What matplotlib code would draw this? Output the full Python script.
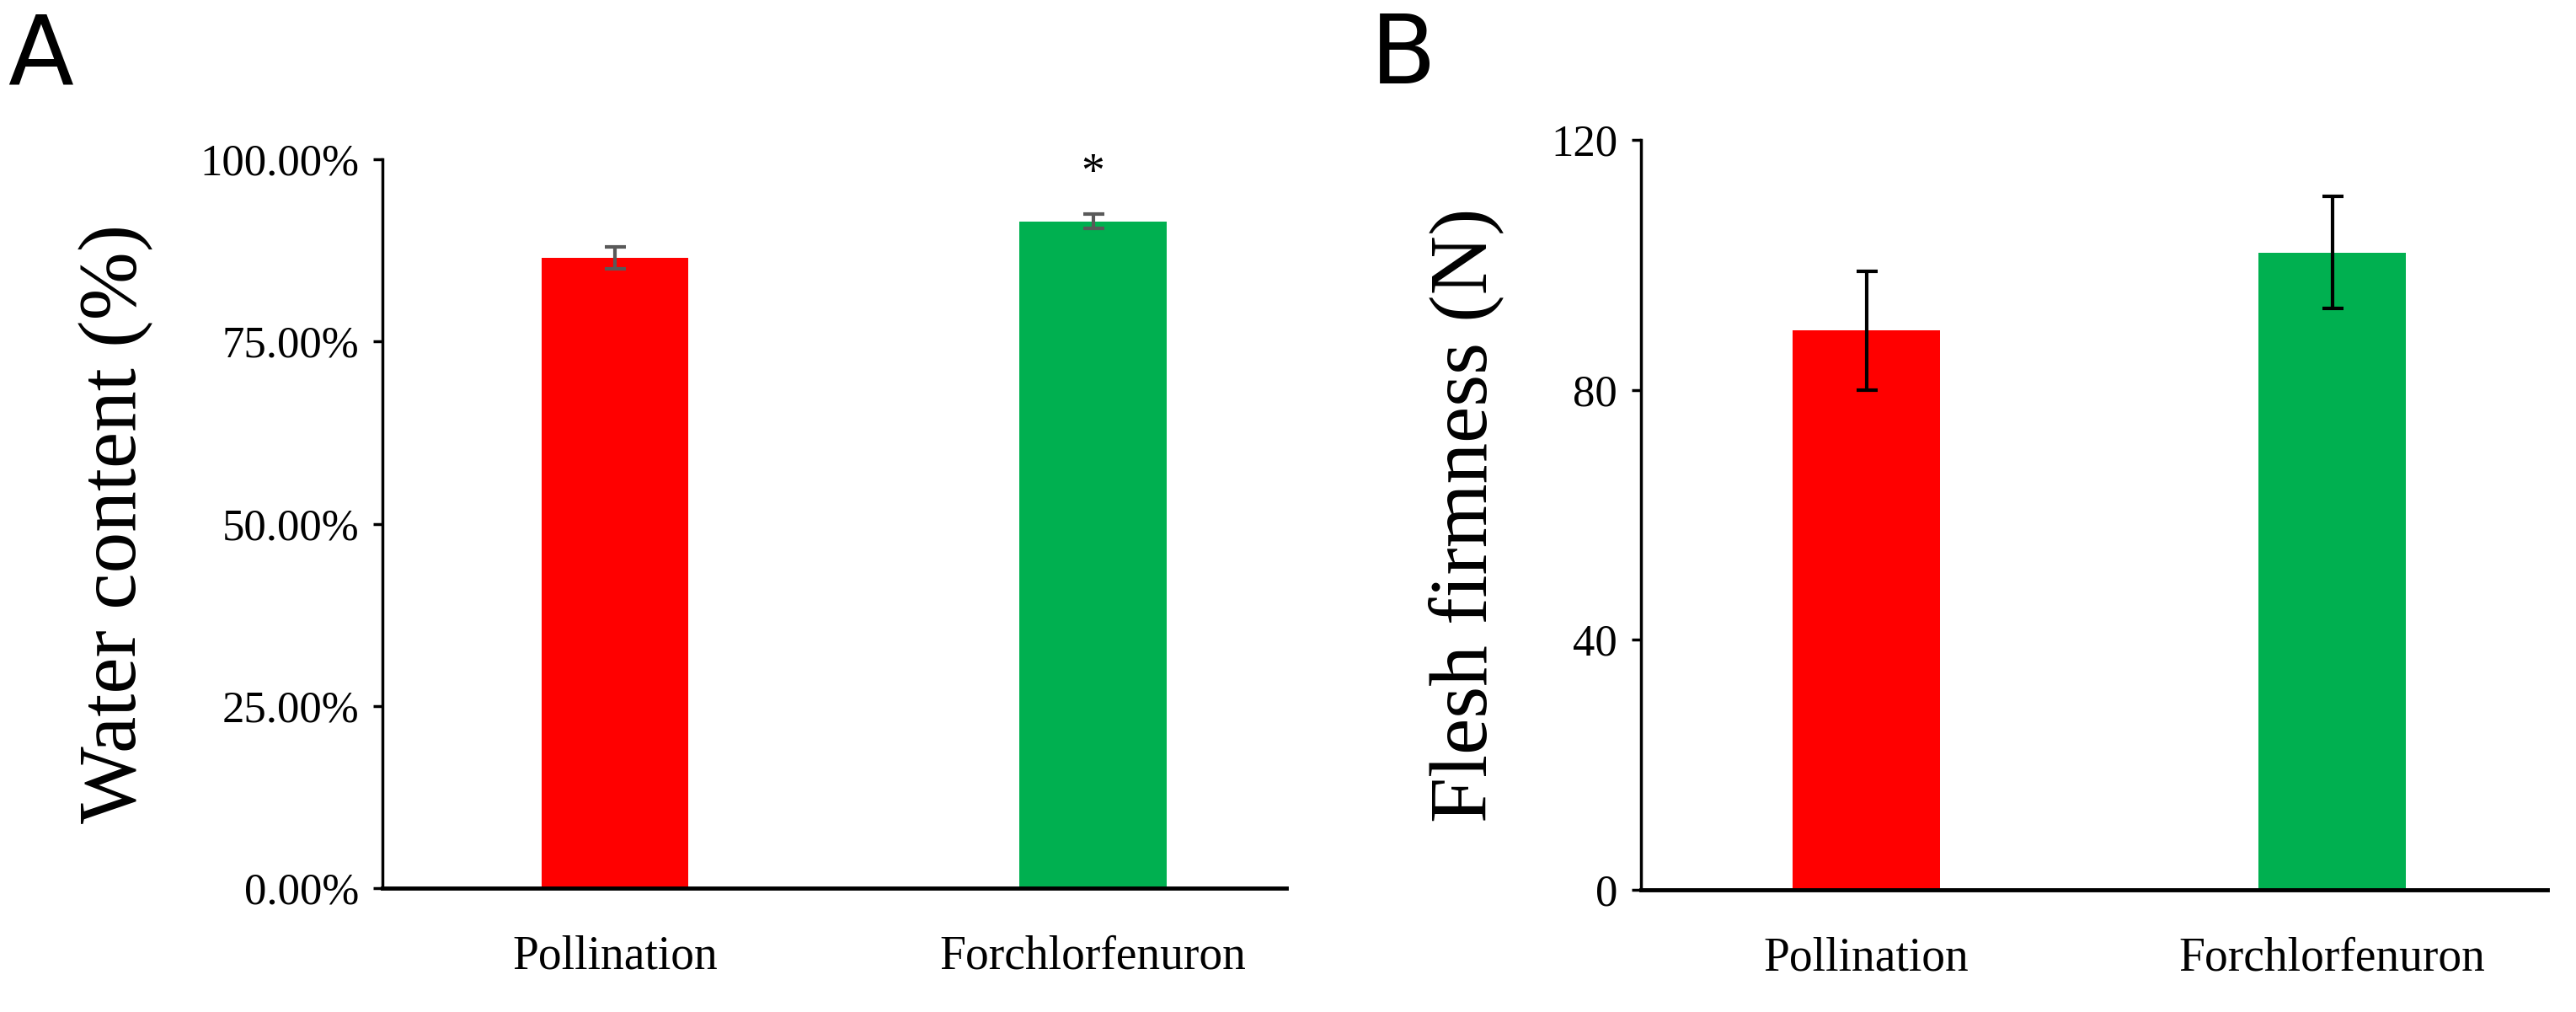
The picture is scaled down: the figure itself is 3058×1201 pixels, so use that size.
import matplotlib
matplotlib.use("Agg")
import matplotlib.pyplot as plt
from matplotlib.ticker import FuncFormatter

categories = ["Pollination", "Forchlorfenuron"]
water = [0.865, 0.915]
water_err = [0.015, 0.010]
firmness = [89.5, 102.0]
firmness_err = [9.5, 9.0]
colors = ["#ff0000", "#00b050"]

plt.rcParams['font.family'] = ['Liberation Serif', 'DejaVu Serif']

fig = plt.figure(figsize=(30.58, 12.01), dpi=100)
axA = fig.add_axes([0.1485, 0.1224, 0.3508, 0.720])
axB = fig.add_axes([0.637, 0.1207, 0.352, 0.741])

def style(ax):
    for s in ["top", "right"]:
        ax.spines[s].set_visible(False)
    ax.spines["left"].set_linewidth(2.5)
    ax.spines["bottom"].set_linewidth(3.5)
    ax.tick_params(axis="y", labelsize=38, width=2.5, length=8, pad=12)
    ax.tick_params(axis="x", labelsize=40, length=0, pad=40)

x = [0, 1]
axA.bar(x, water, width=0.308, color=colors, yerr=water_err,
        error_kw=dict(ecolor="#595959", elinewidth=3, capsize=9, capthick=3))
axA.set_xlim(-0.486, 1.404)
axA.set_ylim(0, 1.0)
axA.set_yticks([0, 0.25, 0.5, 0.75, 1.0])
axA.yaxis.set_major_formatter(FuncFormatter(lambda v, p: f"{v*100:.2f}%"))
axA.set_xticks(x, categories)
axA.set_ylabel("Water content (%)", fontsize=70, labelpad=40)
axA.text(1, water[1] + water_err[1] + 0.025, "*", ha="center", va="bottom", fontsize=40)
style(axA)

axB.bar(x, firmness, width=0.316, color=colors, yerr=firmness_err,
        error_kw=dict(ecolor="black", elinewidth=3, capsize=9, capthick=3))
axB.set_xlim(-0.484, 1.462)
axB.set_ylim(0, 120)
axB.set_yticks([0, 40, 80, 120])
axB.set_xticks(x, categories)
axB.set_ylabel("Flesh firmness (N)", fontsize=70, labelpad=40)
style(axB)

fig.text(0.003, 0.99, "A", fontsize=82, family="DejaVu Sans", va="top")
fig.text(0.532, 0.99, "B", fontsize=82, family="DejaVu Sans", va="top")

fig.savefig("out.png", dpi=100)
